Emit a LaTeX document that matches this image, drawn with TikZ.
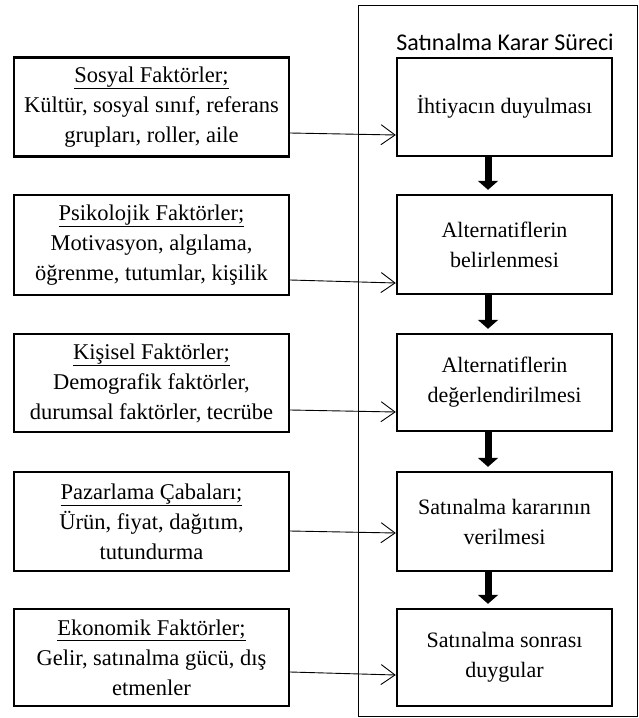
\documentclass[tikz,border=0pt]{standalone}
\usepackage{fontspec}
\setmainfont{Liberation Serif}
\newfontfamily\titlefont{Carlito}
\usetikzlibrary{arrows.meta}
\begin{document}
\begin{tikzpicture}[x=1pt,y=-1pt,
  lbox/.style={draw,line width=2.4pt,minimum width=275pt,inner sep=0pt,align=center,
    font=\fontsize{22.5}{30}\selectfont},
  rbox/.style={draw,line width=2.4pt,minimum width=215pt,inner sep=0pt,align=center,
    font=\fontsize{22}{30}\selectfont},
  feed/.style={line width=0.9pt,-{Straight Barb[length=14pt,width=20pt,line width=0.9pt]}},
  flow/.style={line width=7pt,-{Triangle[length=9pt,width=20pt]}}]
\useasboundingbox (0,0) rectangle (639,718);
\draw[line width=1pt] (358,5) rectangle (637,716);
\node[font=\titlefont\fontsize{24}{28}\selectfont] (title) at (505,42) {Satınalma Karar Süreci};
% left boxes
\node[lbox,minimum height=99pt] (l1) at (151.5,107) {\underline{Sosyal Faktörler;}\\Kültür, sosyal sınıf, referans\\grupları, roller, aile};
\node[lbox,minimum height=100pt] (l2) at (151.5,245) {\underline{Psikolojik Faktörler;}\\Motivasyon, algılama,\\öğrenme, tutumlar, kişilik};
\node[lbox,minimum height=98pt] (l3) at (151.5,383) {\underline{Kişisel Faktörler;}\\Demografik faktörler,\\durumsal faktörler, tecrübe};
\node[lbox,minimum height=99pt] (l4) at (151.5,521.5) {\underline{Pazarlama Çabaları;}\\Ürün, fiyat, dağıtım,\\tutundurma};
\node[lbox,minimum height=97pt] (l5) at (151.5,657.5) {\underline{Ekonomik Faktörler;}\\Gelir, satınalma gücü, dış\\etmenler};
% right boxes
\node[rbox,minimum height=98pt] (r1) at (504.5,107) {İhtiyacın duyulması};
\node[rbox,minimum height=99pt] (r2) at (504.5,244.5) {Alternatiflerin\\belirlenmesi};
\node[rbox,minimum height=97pt] (r3) at (504.5,382.5) {Alternatiflerin\\değerlendirilmesi};
\node[rbox,minimum height=99pt] (r4) at (504.5,521.5) {Satınalma kararının\\verilmesi};
\node[rbox,minimum height=97pt] (r5) at (504.5,657.5) {Satınalma sonrası\\duygular};
% feed connectors
\draw[feed] (l1.east |- 0,133) -- (r1.west |- 0,135);
\draw[feed] (l2.east |- 0,280) -- (r2.west |- 0,283);
\draw[feed] (l3.east |- 0,410) -- (r3.west |- 0,412);
\draw[feed] (l4.east |- 0,531) -- (r4.west |- 0,533);
\draw[feed] (l5.east |- 0,672) -- (r5.west |- 0,675);
% flow arrows
\draw[flow] (r1.south -| 488,0) -- ([yshift=4pt]r2.north -| 488,0);
\draw[flow] (r2.south -| 488,0) -- ([yshift=4pt]r3.north -| 488,0);
\draw[flow] (r3.south -| 488,0) -- ([yshift=4pt]r4.north -| 488,0);
\draw[flow] (r4.south -| 488,0) -- ([yshift=4pt]r5.north -| 488,0);
\end{tikzpicture}
\end{document}
